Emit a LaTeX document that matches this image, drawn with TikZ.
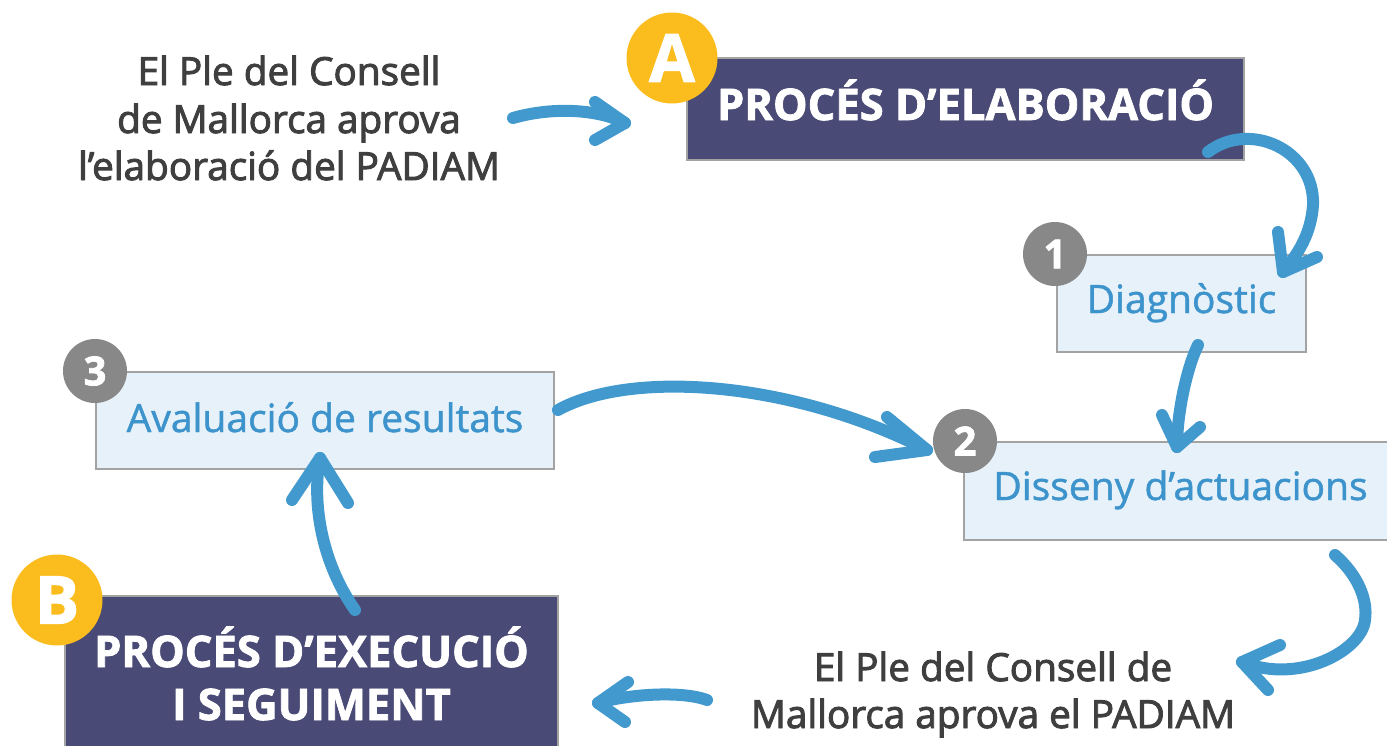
\documentclass[tikz,border=0pt]{standalone}
\usepackage{fontspec}
\setmainfont{Open Sans}
\newfontfamily\graytxt{Open Sans}[FakeBold=2.5]
\newfontfamily\bluetxt{Open Sans}[FakeBold=1.2]
\newfontfamily\heavytxt{Open Sans Bold}[FakeBold=1.8]
\definecolor{darkbox}{HTML}{4A4A76}
\definecolor{boxborder}{HTML}{A3A3A3}
\definecolor{lightfill}{HTML}{E6F1F9}
\definecolor{bluetext}{HTML}{3D93CB}
\definecolor{arrowblue}{HTML}{4299CE}
\definecolor{badgeyellow}{HTML}{FBBD1E}
\definecolor{badgegray}{HTML}{888888}
\definecolor{graytext}{HTML}{3F3F3F}
\tikzset{
  titlebox/.style={draw=boxborder, line width=1.5pt, fill=darkbox, inner sep=0pt},
  stepbox/.style={draw=boxborder, line width=1.5pt, fill=lightfill, inner sep=0pt},
  titletext/.style={text=white, font=\heavytxt\fontsize{43.5}{50}\selectfont, inner sep=0pt, anchor=base},
  steptext/.style={text=bluetext, font=\bluetxt\fontsize{39}{46}\selectfont, inner sep=0pt, anchor=base},
  notetext/.style={text=graytext, font=\graytxt\fontsize{38.7}{46}\selectfont, inner sep=0pt, anchor=base},
  letterbadge/.style={circle, fill=badgeyellow, minimum size=91pt, inner sep=0pt, text=white, font=\heavytxt\fontsize{66}{70}\selectfont},
  numbadge/.style={circle, fill=badgegray, minimum size=64pt, inner sep=0pt, text=white, font=\heavytxt\fontsize{40}{44}\selectfont},
  flow/.style={draw=arrowblue, line width=12pt, line cap=round, line join=round},
}
\begin{document}
\begin{tikzpicture}[x=1pt,y=-1pt]
\useasboundingbox (0,0) rectangle (1387,745);
% boxes
\node[titlebox, minimum width=557pt, minimum height=102pt] (boxA) at (965.5,109) {};
\node[stepbox, minimum width=249pt, minimum height=97pt] (box1) at (1181.5,303.5) {};
\node[stepbox, minimum width=428pt, minimum height=98pt] (box2) at (1178,491) {};
\node[stepbox, minimum width=458pt, minimum height=97pt] (box3) at (325,420.5) {};
\node[titlebox, minimum width=493pt, minimum height=164pt] (boxB) at (311.5,678) {};
% texts
\node[titletext] (tA) at (965.5,120) {PROCÉS D’ELABORACIÓ};
\node[titletext] (tB1) at (311.5,667) {PROCÉS D’EXECUCIÓ};
\node[titletext] (tB2) at (311.5,720) {I SEGUIMENT};
\node[steptext] (t1) at (1181.5,313) {Diagnòstic};
\node[steptext] (t2) at (1180.5,500) {Disseny d’actuacions};
\node[steptext] (t3) at (325,432) {Avaluació de resultats};
\node[notetext] (n1a) at (289,85) {El Ple del Consell};
\node[notetext] (n1b) at (289,133) {de Mallorca aprova};
\node[notetext] (n1c) at (289,180) {l’elaboració del PADIAM};
\node[notetext] (n2a) at (993,681) {El Ple del Consell de};
\node[notetext] (n2b) at (993,728) {Mallorca aprova el PADIAM};
% badges
\node[letterbadge] (bA) at (672,58) {A};
\node[letterbadge] (bB) at (57,600) {B};
\node[numbadge] (b1) at (1055,254) {1};
\node[numbadge] (b2) at (965,441) {2};
\node[numbadge] (b3) at (95,371) {3};
% arrow end coordinates
\coordinate (s0) at (513,118); \coordinate (e0) at (625,123);
\coordinate (sA) at (1208,152); \coordinate (mA) at (1313,205); \coordinate (eA) at (1283,272);
\coordinate (s1) at (1198,345); \coordinate (e1) at (1177,447);
\coordinate (s3) at (558,410); \coordinate (e3) at (927,450);
\coordinate (sB) at (355,610); \coordinate (eB) at (320,458);
\coordinate (s2) at (1335,555); \coordinate (m2) at (1365,620); \coordinate (e2) at (1242,662);
\coordinate (sN) at (707,700); \coordinate (eN) at (598,703);
% arrows
\draw[flow] (s0) .. controls (555,106) and (600,110) .. (e0);
\draw[flow] (595,102) -- (e0) -- (595,140);
\draw[flow] (sA) .. controls (1250,120) and (1315,150) .. (mA) .. controls (1311,235) and (1297,255) .. (eA);
\draw[flow] (1278,232) -- (eA) -- (1317,257);
\draw[flow] (s1) .. controls (1188,365) and (1177,410) .. (e1);
\draw[flow] (1162,415) -- (e1) -- (1200,427);
\draw[flow] (s3) .. controls (630,370) and (790,380) .. (e3);
\draw[flow] (887,417) -- (e3) -- (875,457);
\draw[flow] (sB) .. controls (320,560) and (312,500) .. (eB);
\draw[flow] (292,500) -- (eB) -- (348,503);
\draw[flow] (s2) .. controls (1358,575) and (1368,600) .. (m2) .. controls (1362,650) and (1300,685) .. (e2);
\draw[flow] (1280,645) -- (e2) -- (1268,690);
\draw[flow] (sN) .. controls (680,690) and (625,695) .. (eN);
\draw[flow] (628,682) -- (eN) -- (625,722);
\end{tikzpicture}
\end{document}
